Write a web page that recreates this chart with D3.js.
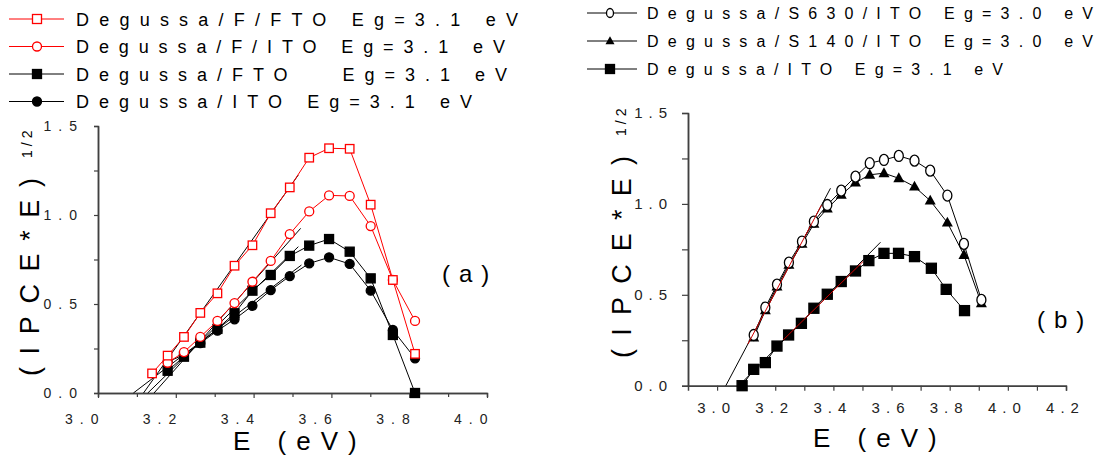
<!DOCTYPE html>
<html>
<head>
<meta charset="utf-8">
<script src="https://cdnjs.cloudflare.com/ajax/libs/d3/7.8.5/d3.min.js"></script>
<style>
  body { margin: 0; background: #fff; }
  svg { display: block; font-family: "Liberation Sans", Arial, sans-serif; }
  text { white-space: pre; }
</style>
</head>
<body>
<svg id="chart" width="1098" height="459"></svg>
<script>
// ---- panel (a) data ----
var energyA = [3.139, 3.179, 3.221, 3.263, 3.307, 3.351, 3.397, 3.444, 3.493, 3.543, 3.594, 3.647, 3.701, 3.758, 3.815]
var fFto = [0.11, 0.21, 0.315, 0.45, 0.56, 0.715, 0.83, 1.01, 1.155, 1.322, 1.375, 1.372, 1.058, 0.635, 0.22]
var fIto = [null, 0.17, 0.23, 0.315, 0.405, 0.505, 0.625, 0.742, 0.893, 1.02, 1.11, 1.107, 0.938, 0.635, 0.405]
var fto = [null, 0.125, 0.204, 0.283, 0.36, 0.448, 0.575, 0.663, 0.77, 0.828, 0.865, 0.794, 0.644, 0.326, 0.0]
var ito = [null, 0.175, 0.215, 0.28, 0.35, 0.414, 0.49, 0.578, 0.657, 0.728, 0.762, 0.725, 0.575, 0.354, 0.195]
// linear fits: [E0, E1], [y0, y1]
var fitsA = [
  { e: [3.117, 3.515], v: [0, 1.225] },
  { e: [3.144, 3.521], v: [0, 0.925] },
  { e: [3.128, 3.515], v: [0, 0.822] },
  { e: [3.091, 3.523], v: [0, 0.719] }
]
var legendA = ['Degussa/F/FTO Eg=3.1 eV', 'Degussa/F/ITO Eg=3.1 eV', 'Degussa/FTO   Eg=3.1 eV', 'Degussa/ITO Eg=3.1 eV']
var xTicksA = [3.0, 3.2, 3.4, 3.6, 3.8, 4.0]
var yTicks = [0.0, 0.5, 1.0, 1.5]

// ---- panel (b) data ----
var energyB1 = [3.086, 3.126, 3.166, 3.206, 3.246, 3.29, 3.333, 3.379, 3.427, 3.476, 3.522, 3.574, 3.624, 3.679, 3.737, 3.788, 3.851]
var itoB = [0.0, 0.09, 0.127, 0.218, 0.279, 0.343, 0.426, 0.503, 0.573, 0.631, 0.688, 0.728, 0.728, 0.71, 0.646, 0.53, 0.413]
var energyB2 = [3.126, 3.166, 3.206, 3.247, 3.292, 3.333, 3.379, 3.427, 3.476, 3.525, 3.574, 3.625, 3.679, 3.733, 3.792, 3.849, 3.909]
var s630 = [0.279, 0.43, 0.556, 0.677, 0.793, 0.903, 0.994, 1.073, 1.15, 1.224, 1.242, 1.264, 1.238, 1.183, 1.046, 0.78, 0.472]
var s140 = [0.265, 0.415, 0.545, 0.665, 0.78, 0.89, 0.975, 1.05, 1.117, 1.16, 1.169, 1.141, 1.095, 1.018, 0.897, 0.719, 0.453]
var fitsB = [
  { e: [3.03, 3.39], v: [0, 1.086], re: [3.106, 3.359], rv: [0.229, 0.993] },
  { e: [3.075, 3.562], v: [0, 0.789], re: [3.227, 3.502], rv: [0.251, 0.683] }
]
var legendB = ['Degussa/S630/ITO Eg=3.0 eV', 'Degussa/S140/ITO Eg=3.0 eV', 'Degussa/ITO Eg=3.1 eV']
var xTicksB = [3.0, 3.2, 3.4, 3.6, 3.8, 4.0, 4.2]

var RED = '#ff0000'
var AXIS = '#404040'
var svg = d3.select('#chart')

function pairs (xs, ys) {
  var out = []
  xs.forEach(function (x, i) { if (ys[i] != null) out.push([x, ys[i]]) })
  return out
}

function marker (g, kind, color, cx, cy, s) {
  if (kind === 'sq' || kind === 'osq') {
    g.append('rect').attr('x', cx - s / 2).attr('y', cy - s / 2).attr('width', s).attr('height', s)
      .attr('fill', kind === 'sq' ? color : '#fff').attr('stroke', color).attr('stroke-width', 1.3)
  } else if (kind === 'ci' || kind === 'oci') {
    g.append('ellipse').attr('cx', cx).attr('cy', cy).attr('rx', s / 2).attr('ry', kind === 'oci' && color === '#000' ? s / 2 + 1 : s / 2)
      .attr('fill', kind === 'ci' ? color : '#fff').attr('stroke', color).attr('stroke-width', 1.3)
  } else if (kind === 'tri') {
    var h = s * 0.9
    g.append('path').attr('d', 'M' + cx + ',' + (cy - h * 0.6) + 'L' + (cx + s / 2) + ',' + (cy + h * 0.4) + 'L' + (cx - s / 2) + ',' + (cy + h * 0.4) + 'Z')
      .attr('fill', color)
  }
}

function series (g, x, y, pts, kind, color, s) {
  var line = d3.line().x(function (d) { return x(d[0]) }).y(function (d) { return y(d[1]) })
  g.append('path').attr('d', line(pts)).attr('fill', 'none').attr('stroke', color).attr('stroke-width', 1)
  var m = g.append('g')
  pts.forEach(function (p) { marker(m, kind, color, x(p[0]), y(p[1]), s) })
}

function spacedAxis (g, opts) {
  g.selectAll('.domain').attr('stroke', AXIS).attr('stroke-width', 1.5)
  g.selectAll('.tick line').attr('stroke', AXIS).attr('stroke-width', 1.2)
  g.selectAll('.tick text').attr('fill', '#222').attr('font-size', opts.size)
    .style('letter-spacing', opts.ls + 'px')
}

// ================= panel (a) =================
var xa = d3.scaleLinear().domain([3.0, 4.0]).range([98, 487])
var ya = d3.scaleLinear().domain([0, 1.5]).range([393, 126])
var ga = svg.append('g')

// minor ticks
ga.append('g').attr('transform', 'translate(0,393)')
  .call(d3.axisBottom(xa).tickValues(d3.range(3.1, 4.0, 0.2)).tickSize(4).tickFormat(''))
  .call(spacedAxis, { size: 14, ls: 7 })
ga.append('g').attr('transform', 'translate(98,0)')
  .call(d3.axisLeft(ya).tickValues([0.25, 0.75, 1.25]).tickSize(4).tickFormat(''))
  .call(spacedAxis, { size: 14, ls: 7 })

var axA = ga.append('g').attr('transform', 'translate(0,393)')
  .call(d3.axisBottom(xa).tickValues(xTicksA).tickSize(5).tickSizeOuter(0).tickFormat(d3.format('.1f')).tickPadding(16))
  .call(spacedAxis, { size: 14, ls: 7 })
axA.selectAll('.tick text').attr('text-anchor', 'end').attr('dx', 7)
ga.append('g').attr('transform', 'translate(98,0)')
  .call(d3.axisLeft(ya).tickValues(yTicks).tickSize(4).tickSizeOuter(0).tickFormat(d3.format('.1f')).tickPadding(10))
  .call(spacedAxis, { size: 14, ls: 7 })

// fits
fitsA.forEach(function (f, i) {
  ga.append('line').attr('x1', xa(f.e[0])).attr('y1', ya(f.v[0])).attr('x2', xa(f.e[1])).attr('y2', ya(f.v[1]))
    .attr('stroke', '#000').attr('stroke-width', 1)
})

series(ga, xa, ya, pairs(energyA, fto), 'sq', '#000', 9)
series(ga, xa, ya, pairs(energyA, ito), 'ci', '#000', 9)
series(ga, xa, ya, pairs(energyA, fIto), 'oci', RED, 9)
series(ga, xa, ya, pairs(energyA, fFto), 'osq', RED, 8.5)

ga.append('text').attr('x', 442).attr('y', 282).attr('font-size', 24).style('letter-spacing', '9px').text('(a)')
ga.append('text').attr('x', 233).attr('y', 450).attr('font-size', 26).style('letter-spacing', '10px').text('E (eV)')
ga.append('text').attr('transform', 'translate(39,376) rotate(-90)').attr('font-size', 27)
  .attr('textLength', 198).attr('lengthAdjust', 'spacing').text('(IPCE*E)')
ga.append('text').attr('transform', 'translate(32,158) rotate(-90)').attr('font-size', 14)
  .style('letter-spacing', '4px').text('1/2')

// legend (a)
var legKindsA = [['osq', RED], ['oci', RED], ['sq', '#000'], ['ci', '#000']]
var legEndsA = [518, 505, 507, 472]
legendA.forEach(function (t, i) {
  var cy = 19 + i * 27.5
  var lg = svg.append('g')
  lg.append('line').attr('x1', 9).attr('x2', 64).attr('y1', cy).attr('y2', cy)
    .attr('stroke', legKindsA[i][1]).attr('stroke-width', 1)
  marker(lg, legKindsA[i][0], legKindsA[i][1], 37, cy, 9)
  lg.append('text').attr('x', 76).attr('y', cy + 6.5).attr('font-size', 18)
    .attr('textLength', legEndsA[i] - 76).attr('lengthAdjust', 'spacing').text(t)
})

// ================= panel (b) =================
var xb = d3.scaleLinear().domain([2.9, 4.2]).range([688, 1066])
var yb = d3.scaleLinear().domain([0, 1.5]).range([385.7, 113])
var gb = svg.append('g')

gb.append('g').attr('transform', 'translate(0,385.7)')
  .call(d3.axisBottom(xb).tickValues(d3.range(3.1, 4.2, 0.2)).tickSize(5).tickFormat(''))
  .call(spacedAxis, { size: 15, ls: 6 })
gb.append('g').attr('transform', 'translate(688,0)')
  .call(d3.axisLeft(yb).tickValues([0.25, 0.75, 1.25]).tickSize(6).tickFormat(''))
  .call(spacedAxis, { size: 15, ls: 6 })
var axB = gb.append('g').attr('transform', 'translate(0,385.7)')
  .call(d3.axisBottom(xb).tickValues(xTicksB).tickSize(5).tickSizeOuter(0).tickFormat(d3.format('.1f')).tickPadding(12))
  .call(spacedAxis, { size: 15, ls: 6 })
axB.selectAll('.tick text').attr('dx', -1)
gb.append('g').attr('transform', 'translate(688,0)')
  .call(d3.axisLeft(yb).tickValues(yTicks).tickSize(6).tickSizeOuter(0).tickFormat(d3.format('.1f')).tickPadding(9))
  .call(spacedAxis, { size: 15, ls: 6 })

fitsB.forEach(function (f) {
  gb.append('line').attr('x1', xb(f.e[0])).attr('y1', yb(f.v[0])).attr('x2', xb(f.e[1])).attr('y2', yb(f.v[1]))
    .attr('stroke', '#000').attr('stroke-width', 1)
})
series(gb, xb, yb, pairs(energyB1, itoB), 'sq', '#000', 10)
series(gb, xb, yb, pairs(energyB2, s140), 'tri', '#000', 11)
series(gb, xb, yb, pairs(energyB2, s630), 'oci', '#000', 9)
fitsB.forEach(function (f) {
  gb.append('line').attr('x1', xb(f.re[0])).attr('y1', yb(f.rv[0])).attr('x2', xb(f.re[1])).attr('y2', yb(f.rv[1]))
    .attr('stroke', '#d00000').attr('stroke-width', 1)
})

gb.append('text').attr('x', 1037).attr('y', 328).attr('font-size', 24).style('letter-spacing', '9px').text('(b)')
gb.append('text').attr('x', 813).attr('y', 447).attr('font-size', 26).style('letter-spacing', '10px').text('E (eV)')
gb.append('text').attr('transform', 'translate(631,358) rotate(-90)').attr('font-size', 27)
  .attr('textLength', 202).attr('lengthAdjust', 'spacing').text('(IPCE*E)')
gb.append('text').attr('transform', 'translate(626,136) rotate(-90)').attr('font-size', 14)
  .style('letter-spacing', '4px').text('1/2')

// legend (b)
var legKindsB = ['oci', 'tri', 'sq']
var legEndsB = [1093, 1093, 1003]
legendB.forEach(function (t, i) {
  var cy = 13 + i * 28
  var lg = svg.append('g')
  lg.append('line').attr('x1', 587).attr('x2', 637).attr('y1', cy).attr('y2', cy)
    .attr('stroke', '#000').attr('stroke-width', 1)
  marker(lg, legKindsB[i], '#000', 610, cy, i === 0 ? 7 : 9)
  lg.append('text').attr('x', 647).attr('y', cy + 6).attr('font-size', 16)
    .attr('textLength', legEndsB[i] - 647).attr('lengthAdjust', 'spacing').text(t)
})
</script>
</body>
</html>
